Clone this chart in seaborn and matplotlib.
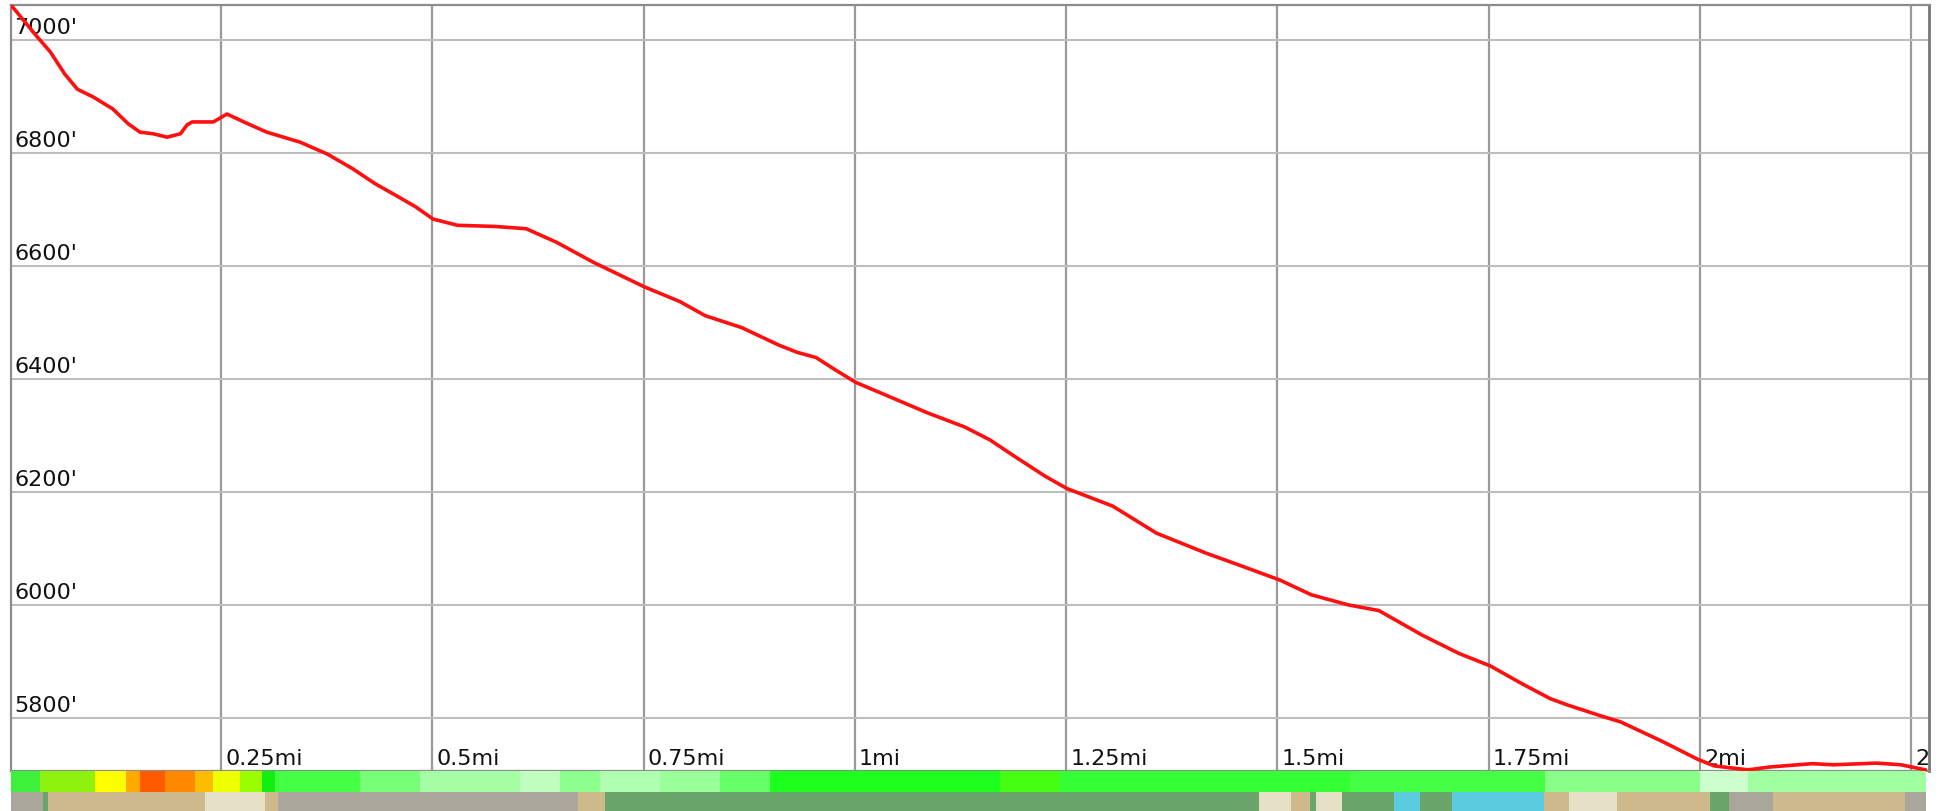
import numpy as np
import pandas as pd
import matplotlib
matplotlib.use("Agg")
import matplotlib.pyplot as plt
import matplotlib.transforms as mtrans
import seaborn as sns

# ── Data ──────────────────────────────────────────────────────────────────────

dist_mi = [0.0015, 0.030, 0.048, 0.065, 0.080, 0.099, 0.122, 0.140, 0.154, 0.170,
           0.186, 0.202, 0.210, 0.216, 0.241, 0.257, 0.280, 0.304, 0.344, 0.376,
           0.406, 0.432, 0.458, 0.480, 0.501, 0.530, 0.574, 0.611, 0.647, 0.690,
           0.751, 0.793, 0.823, 0.866, 0.910, 0.932, 0.954, 0.977, 1.001, 1.042,
           1.086, 1.130, 1.160, 1.189, 1.225, 1.251, 1.305, 1.357, 1.415, 1.452,
           1.503, 1.540, 1.584, 1.620, 1.672, 1.715, 1.752, 1.790, 1.823, 1.843,
           1.886, 1.906, 1.956, 1.997, 2.017, 2.057, 2.082, 2.133, 2.158, 2.209,
           2.238, 2.267]
elev_ft = [7062, 7010, 6979, 6940, 6913, 6899, 6878, 6852, 6837, 6834,
           6828, 6834, 6850, 6855, 6855, 6869, 6853, 6837, 6819, 6798,
           6772, 6746, 6724, 6705, 6683, 6672, 6670, 6666, 6642, 6607,
           6563, 6537, 6512, 6491, 6460, 6447, 6438, 6416, 6394, 6368,
           6340, 6315, 6292, 6263, 6228, 6206, 6175, 6127, 6092, 6072,
           6044, 6018, 6000, 5990, 5946, 5914, 5892, 5860, 5834, 5823,
           5802, 5793, 5758, 5727, 5715, 5708, 5713, 5719, 5717, 5720,
           5717, 5708]

x_ticks = [0.25, 0.5, 0.75, 1.0, 1.25, 1.5, 1.75, 2.0, 2.25]
x_labels = ["0.25mi", "0.5mi", "0.75mi", "1mi", "1.25mi", "1.5mi", "1.75mi", "2mi", "2.25mi"]
y_ticks = [5800, 6000, 6200, 6400, 6600, 6800, 7000]
y_labels = ["5800'", "6000'", "6200'", "6400'", "6600'", "6800'", "7000'"]

# slope strip: segment edges (mi) and colours
slope_edges = [0.0015, 0.036, 0.101, 0.137, 0.154, 0.184, 0.219, 0.240, 0.273, 0.299,
               0.314, 0.415, 0.486, 0.604, 0.651, 0.699, 0.770, 0.841, 0.900, 1.172,
               1.243, 1.586, 1.817, 2.000, 2.057, 2.267]
slope_colors = ["#3cf03c", "#8ef20e", "#ffff00", "#ffaa00", "#ff5a00", "#ff8800",
                "#ffbb00", "#eeff00", "#99ff00", "#11ee11", "#44ff44", "#77ff77",
                "#a5ffa5", "#c0ffc0", "#8cff8c", "#b0ffb0", "#99ff99", "#66ff66",
                "#1dff1d", "#44ff11", "#33ff33", "#44ff44", "#88ff88", "#ccffcc",
                "#a0ffa0"]

# land cover strip
land_edges = [0.0015, 0.039, 0.045, 0.231, 0.302, 0.318, 0.673, 0.704, 1.478, 1.516,
              1.539, 1.546, 1.577, 1.638, 1.669, 1.707, 1.815, 1.845, 1.902, 2.012,
              2.034, 2.086, 2.243, 2.267]
land_class = ["developed", "forest", "shrub", "grass", "shrub", "developed", "shrub",
              "forest", "grass", "shrub", "forest", "grass", "forest", "water", "forest",
              "water", "shrub", "grass", "shrub", "forest", "developed", "shrub",
              "developed"]
LAND_PALETTE = {"developed": "#aaa69c", "forest": "#6aa56a", "shrub": "#cdb98c",
                "grass": "#e6e1c6", "water": "#5bcbe0"}

# ── Style ─────────────────────────────────────────────────────────────────────

sns.set_theme(style="white")
plt.rcParams["font.family"] = ["DejaVu Sans"]

W, H = 1939, 812
fig = plt.figure(figsize=(W / 100, H / 100), dpi=100)
fig.patch.set_facecolor("white")

left, right = 11 / W, 1929 / W
ax = fig.add_axes([left, 40 / H, right - left, 766 / H])
ax_slope = fig.add_axes([left, 19 / H, right - left, 21 / H], sharex=ax)
ax_land = fig.add_axes([left, 0, right - left, 19 / H], sharex=ax)

# ── Profile ───────────────────────────────────────────────────────────────────

df = pd.DataFrame({"dist": dist_mi, "elev": elev_ft})
sns.lineplot(data=df, x="dist", y="elev", ax=ax, color="#ff1010",
             linewidth=2.6, sort=False, estimator=None, zorder=5,
             solid_joinstyle="round", solid_capstyle="round")

ax.set_xlim(dist_mi[0], 2.271)
ax.set_ylim(min(elev_ft) - 2, max(elev_ft))
ax.set_xticks(x_ticks)
ax.set_yticks(y_ticks)
ax.set_xticklabels([])
ax.set_yticklabels([])
ax.tick_params(length=0)
ax.set_xlabel("")
ax.set_ylabel("")
ax.xaxis.grid(True, color="#9a9a9a", linewidth=1.6)
ax.yaxis.grid(True, color="#bdbdbd", linewidth=1.5)
ax.set_axisbelow(True)
for side, sp in ax.spines.items():
    sp.set_color("#8c8c8c")
    sp.set_linewidth(1.6)
ax.spines["right"].set_color("#777777")
ax.spines["right"].set_linewidth(2.0)

# labels drawn inside the plot area
ytrans = mtrans.offset_copy(ax.get_yaxis_transform(), fig=fig, x=3, y=7, units="dots")
for v, lab in zip(y_ticks, y_labels):
    ax.text(0, v, lab, transform=ytrans, ha="left", va="baseline",
            fontsize=16, color="#111111", clip_on=True)

xtrans = mtrans.offset_copy(ax.get_xaxis_transform(), fig=fig, x=4, y=7, units="dots")
for v, lab in zip(x_ticks, x_labels):
    ax.text(v, 0, lab, transform=xtrans, ha="left", va="baseline",
            fontsize=16, color="#111111", clip_on=True)

# ── Strips ────────────────────────────────────────────────────────────────────

s_left = np.array(slope_edges[:-1])
s_width = np.diff(slope_edges)
ax_slope.barh(0, s_width, left=s_left, height=1, color=slope_colors, linewidth=0)

l_left = np.array(land_edges[:-1])
l_width = np.diff(land_edges)
ax_land.barh(0, l_width, left=l_left, height=1,
             color=[LAND_PALETTE[c] for c in land_class], linewidth=0)

for a in (ax_slope, ax_land):
    a.set_ylim(-0.5, 0.5)
    a.axis("off")

fig.savefig("out.png", dpi=100, facecolor="white")
